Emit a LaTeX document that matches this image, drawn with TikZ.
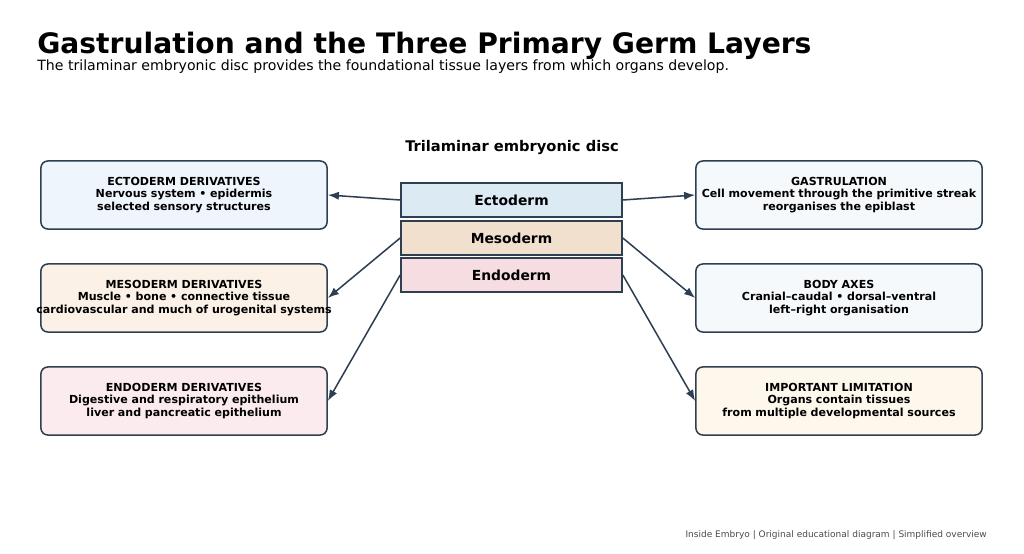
\documentclass[tikz,border=0pt]{standalone}
\usepackage{fontspec}
\setmainfont{DejaVu Sans}
\usetikzlibrary{arrows.meta}
\definecolor{cedge}{HTML}{2E3F52}
\definecolor{cectobox}{HTML}{EEF5FC}
\definecolor{cmesobox}{HTML}{FCF1E6}
\definecolor{cendobox}{HTML}{FBEBEE}
\definecolor{cinfobox}{HTML}{F5F9FC}
\definecolor{cwarnbox}{HTML}{FEF7EC}
\definecolor{cecto}{HTML}{DCEAF4}
\definecolor{cmeso}{HTML}{F2E0CF}
\definecolor{cendo}{HTML}{F5DDE2}
\definecolor{cfoot}{HTML}{4A4A4A}

\tikzset{
  infobox/.style={draw=cedge, line width=1.1pt, rounded corners=5pt,
    minimum width=2.86in, minimum height=0.68in, text width=2.86in, align=center,
    font=\fontsize{8}{9.1}\selectfont\bfseries, inner sep=0pt},
  layer/.style={draw=cedge, line width=1.1pt, minimum width=2.21in,
    minimum height=0.34in, font=\fontsize{10}{12}\selectfont\bfseries},
  link/.style={-{Latex[length=8pt,width=6pt]}, cedge, line width=1.1pt}
}

\begin{document}
\begin{tikzpicture}[x=0.01in, y=-0.01in]
  \useasboundingbox (0,0) rectangle (1024,554);

  % title
  \node [anchor=base west, inner sep=0pt, font=\fontsize{20.35}{24}\selectfont\bfseries] (title) at (37,54)
    {Gastrulation and the Three Primary Germ Layers};
  \node [anchor=base west, inner sep=0pt, font=\fontsize{10.2}{12}\selectfont] (subtitle) at (37,71)
    {The trilaminar embryonic disc provides the foundational tissue layers from which organs develop.};

  % germ layers
  \node [font=\fontsize{10.6}{12}\selectfont\bfseries] (disc) at (512,148) {Trilaminar embryonic disc};
  \node [layer, fill=cecto] (ecto) at (511.5,200) {Ectoderm};
  \node [layer, fill=cmeso] (meso) at (511.5,238) {Mesoderm};
  \node [layer, fill=cendo] (endo) at (511.5,275) {Endoderm};

  % derivative boxes
  \node [infobox, fill=cectobox] (ectoder) at (184,195)
    {ECTODERM DERIVATIVES\\Nervous system \textbullet{} epidermis\\selected sensory structures};
  \node [infobox, fill=cmesobox] (mesoder) at (184,298)
    {MESODERM DERIVATIVES\\Muscle \textbullet{} bone \textbullet{} connective tissue\\\makebox[2.86in][c]{cardiovascular and much of urogenital systems}};
  \node [infobox, fill=cendobox] (endoder) at (184,401)
    {ENDODERM DERIVATIVES\\Digestive and respiratory epithelium\\liver and pancreatic epithelium};

  % context boxes
  \node [infobox, fill=cinfobox] (gastr) at (839,195)
    {GASTRULATION\\Cell movement through the primitive streak\\reorganises the epiblast};
  \node [infobox, fill=cinfobox] (axes) at (839,298)
    {BODY AXES\\Cranial–caudal \textbullet{} dorsal–ventral\\left–right organisation};
  \node [infobox, fill=cwarnbox] (limit) at (839,401)
    {IMPORTANT LIMITATION\\Organs contain tissues\\from multiple developmental sources};

  % arrows
  \draw [link] (ecto.west) -- (ectoder.east);
  \draw [link] (meso.west) -- (mesoder.east);
  \draw [link] (endo.west) -- (endoder.east);
  \draw [link] (ecto.east) -- (gastr.west);
  \draw [link] (meso.east) -- (axes.west);
  \draw [link] (endo.east) -- (limit.west);

  % footer
  \node [anchor=base east, inner sep=0pt, text=cfoot, font=\fontsize{6.5}{8}\selectfont] (footer) at (987,537)
    {Inside Embryo | Original educational diagram | Simplified overview};
\end{tikzpicture}
\end{document}
